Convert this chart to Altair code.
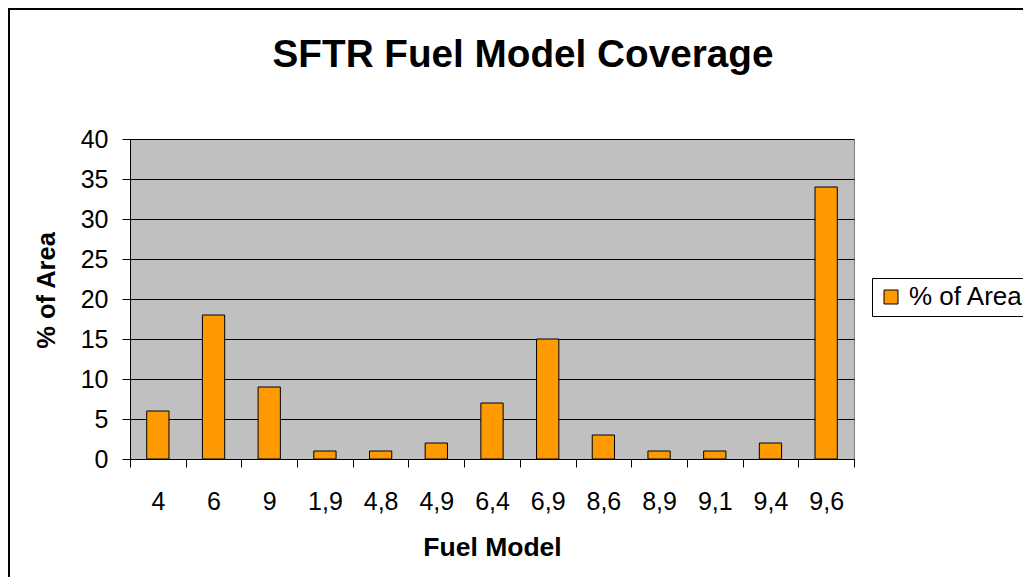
import altair as alt
import pandas as pd

# ---- data ----
fuel_models = ["4", "6", "9", "1,9", "4,8", "4,9", "6,4", "6,9", "8,6", "8,9", "9,1", "9,4", "9,6"]
pct_area = [6, 18, 9, 1, 1, 2, 7, 15, 3, 1, 1, 2, 34]
series_name = "% of Area"
title_text = "SFTR Fuel Model Coverage"
x_title = "Fuel Model"
y_title = "% of Area"
y_ticks = [0, 5, 10, 15, 20, 25, 30, 35, 40]

df = pd.DataFrame({
    "model": fuel_models,
    "pct": pct_area,
    "series": [series_name] * len(fuel_models),
})

FONT = "Liberation Sans"
W, H = 724, 320

bars = alt.Chart(df).mark_bar(
    stroke="black", strokeWidth=1, width=alt.RelativeBandSize(0.4)
).encode(
    x=alt.X(
        "model:N", sort=fuel_models,
        scale=alt.Scale(paddingInner=0, paddingOuter=0),
        axis=alt.Axis(
            title=x_title, labelAngle=0, tickBand="extent", grid=False,
            domainColor="black", tickColor="black", tickSize=8, ticks=True,
            labelFont=FONT, labelFontSize=25, labelColor="black",
            labelBaseline="alphabetic", labelPadding=42,
            titleFont=FONT, titleFontSize=26.5, titleFontWeight="bold", titleColor="black",
            titleX=362, titleY=96, titleAlign="center", titleBaseline="alphabetic",
        ),
    ),
    y=alt.Y(
        "pct:Q",
        scale=alt.Scale(domain=[0, 40], nice=False),
        axis=alt.Axis(
            title=y_title, values=y_ticks, grid=True, gridColor="black", gridWidth=1,
            domainColor="black", tickColor="black", tickSize=8,
            labelFont=FONT, labelFontSize=25, labelColor="black", labelPadding=14,
            titleFont=FONT, titleFontSize=25.5, titleFontWeight="bold", titleColor="black",
            titleAngle=270, titleX=-84, titleY=151, titleAlign="center", titleBaseline="middle",
        ),
    ),
    color=alt.Color(
        "series:N",
        scale=alt.Scale(domain=[series_name], range=["#FF9900"]),
        legend=alt.Legend(
            title=None, orient="none", legendX=742, legendY=139,
            strokeColor="black", fillColor="white", padding=6,
            symbolType="square", symbolSize=196, symbolStrokeColor="black",
            symbolStrokeWidth=1, labelFont=FONT, labelFontSize=26, labelColor="black",
            labelOffset=5, labelLimit=400,
        ),
    ),
)

border = alt.Chart(pd.DataFrame({"k": [0]})).mark_rect(
    fillOpacity=0, stroke="black", strokeWidth=2
).encode(
    x=alt.value(-121), x2=alt.value(1200), y=alt.value(-130), y2=alt.value(1200)
)

title = alt.Chart(pd.DataFrame({"t": [title_text]})).mark_text(
    font=FONT, fontSize=38.7, fontWeight="bold", align="center", baseline="alphabetic",
    color="black",
).encode(text="t:N", x=alt.value(393), y=alt.value(-72))

chart = alt.layer(border, bars, title).properties(
    width=W, height=H,
    autosize=alt.AutoSizeParams(type="none"),
    padding={"left": 122, "top": 131, "right": 169, "bottom": 118},
    background="white",
).configure_view(fill="#C0C0C0", stroke="#808080", strokeWidth=1)

chart.save("out.html", embed_options={"renderer": "svg", "actions": False})
